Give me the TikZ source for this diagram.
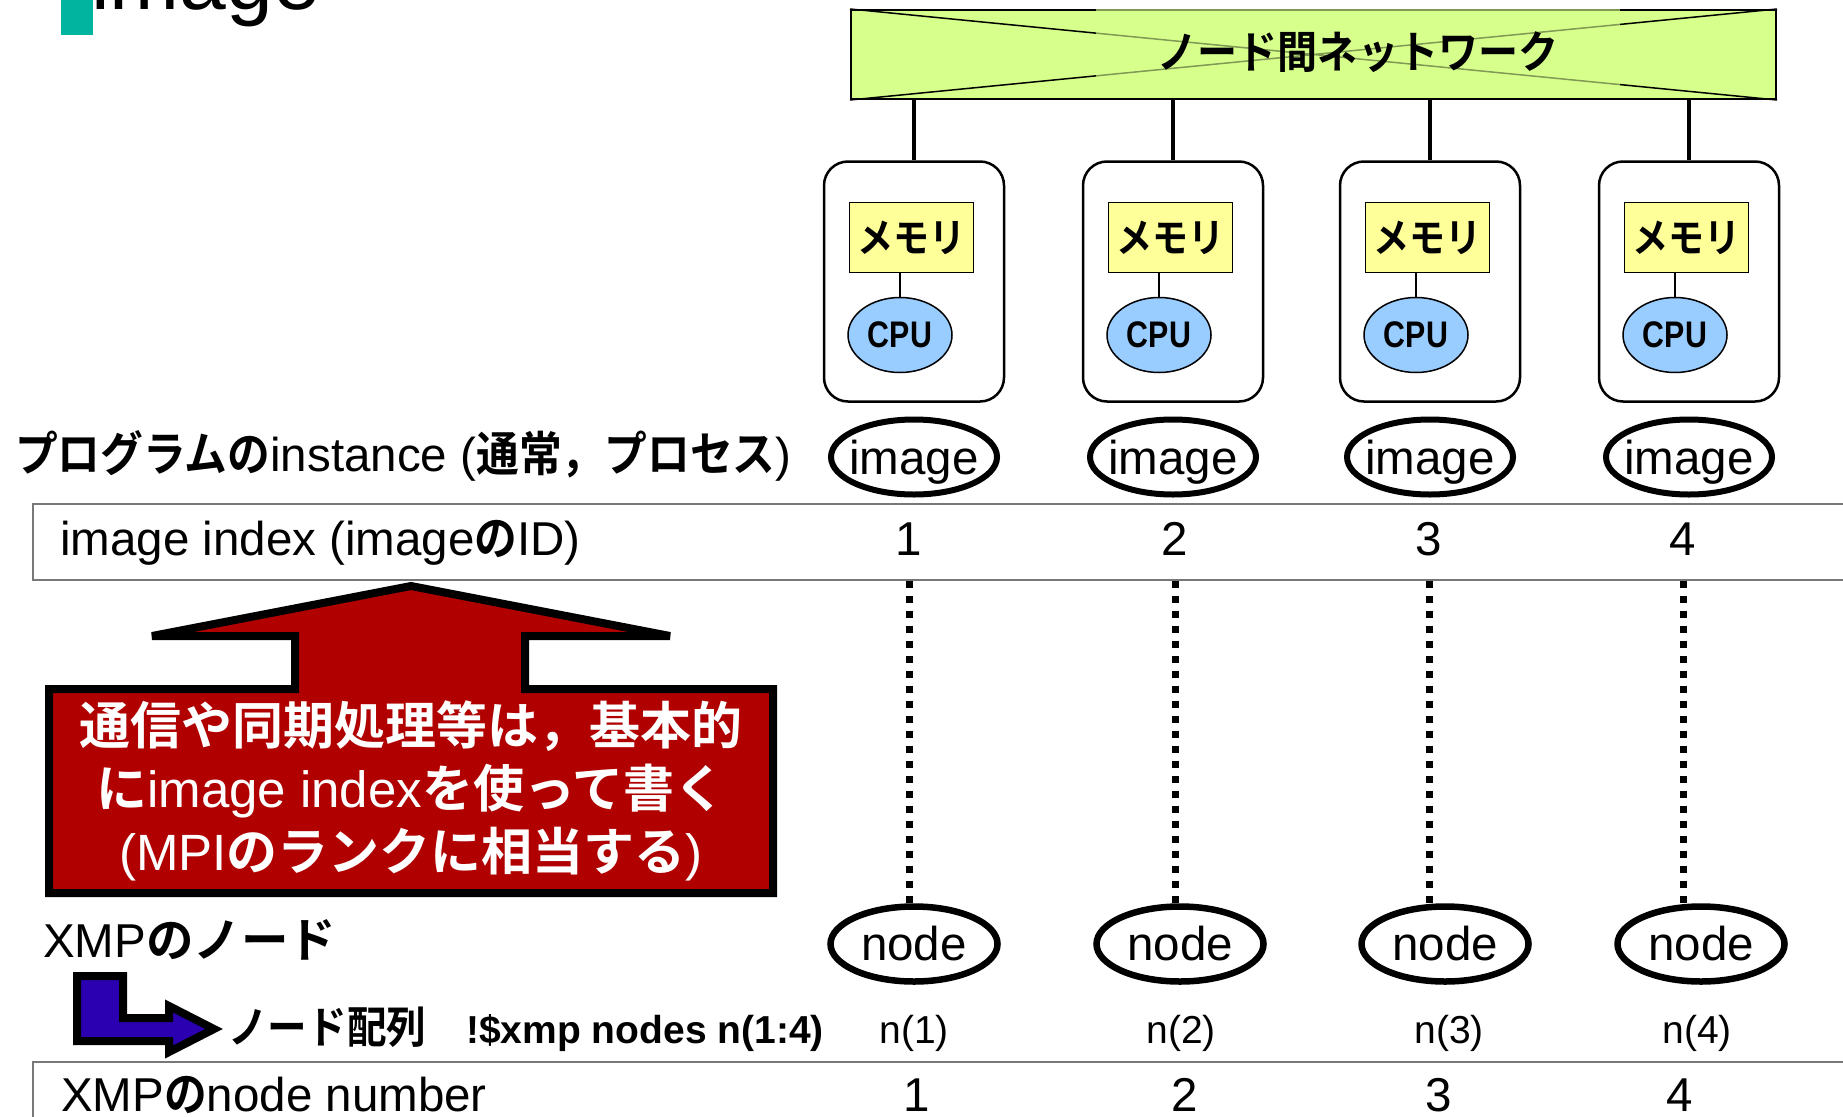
\documentclass[tikz,border=0pt]{standalone}
\usepackage{fontspec}
\setmainfont{Liberation Sans}
\newfontfamily\jpfont[FakeStretch=0.9]{Noto Sans CJK JP Bold}
\newfontfamily\jpwide{Noto Sans CJK JP Bold}
\newfontfamily\condfont[FakeStretch=0.82]{Liberation Sans}
\usetikzlibrary{shapes.geometric}
\newcommand\setfs[1]{\fontsize{#1}{#1}\selectfont}
\newcommand\jtxt[1]{{\jpfont #1}}
\newcommand\jwide[1]{{\jpwide #1}}
\definecolor{netgreen}{RGB}{214,255,140}
\definecolor{memyellow}{RGB}{255,255,153}
\definecolor{cpublue}{RGB}{153,204,255}
\definecolor{calloutred}{RGB}{176,0,0}
\definecolor{arrowblue}{RGB}{43,0,176}
\definecolor{titlegreen}{RGB}{0,180,160}
\definecolor{rowgray}{RGB}{120,120,120}
\begin{document}
\begin{tikzpicture}[x=1pt, y=-1pt, line join=miter, font=\setfs{47.5}]
	\tikzset{lbl/.style={inner sep=0pt},
		netbox/.style={draw, line width=2pt, fill=netgreen, minimum width=925pt, minimum height=89pt, inner sep=0pt},
		nettext/.style={fill=netgreen, fill opacity=0.6, text opacity=1, minimum width=524pt, minimum height=86pt, font=\jpfont\setfs{44.5}},
		pcbox/.style={draw, line width=2.5pt, fill=white, rounded corners=24pt, minimum width=180pt, minimum height=240pt},
		membox/.style={draw, line width=1.5pt, fill=memyellow, minimum width=124pt, minimum height=70pt, font=\jpfont\setfs{40}},
		cpu/.style={ellipse, draw, line width=1.5pt, fill=cpublue, minimum width=104pt, minimum height=75pt, inner sep=0pt, font=\condfont\bfseries\setfs{37}},
		imgell/.style={ellipse, draw, line width=6pt, minimum width=166pt, minimum height=75pt, inner xsep=-8pt, inner ysep=-2pt, text height=44pt, text depth=10pt},
		ndell/.style={ellipse, draw, line width=6.5pt, minimum width=167pt, minimum height=75pt, inner sep=0pt},
		rowbox/.style={draw=rowgray, line width=1.5pt, anchor=north west, minimum width=1900pt, inner sep=0pt},
		stem/.style={line width=4pt},
		dotline/.style={line width=7pt, dash pattern=on 7pt off 8pt}}
	\useasboundingbox (0,0) rectangle (1843,1116);
	\fill[titlegreen] (61,-5) rectangle (93,35);
	\node[lbl, anchor=base west, font=\setfs{84}] (title) at (91,10) {image};
	\node[netbox] (net) at (1313.5,54.5) {};
	\draw[line width=1.5pt] (net.north west) -- (net.south east) (net.south west) -- (net.north east);
	\node[nettext] (nettitle) at (1358,52) {ノード間ネットワーク};
	\node[rowbox, minimum height=76pt] (idxrow) at (32,503) {};
	\node[rowbox, minimum height=100pt] (numrow) at (32,1061) {};
	\foreach \k/\x/\ix/\nx/\px/\bx in {1/914/909/914/914/917, 2/1173/1175/1180/1181/1185, 3/1430/1429/1445/1449/1439, 4/1689/1683/1701/1697/1680}{
		\node[pcbox] (box\k) at (\x,281.5) {};
		\draw[stem] (box\k.north) -- (box\k.north |- net.south);
		\node[membox] (mem\k) at (\x-2.5,237.5) {メモリ};
		\node[cpu] (cpu\k) at (\x-14,335) {CPU};
		\draw[line width=1.5pt] (cpu\k.north) -- (cpu\k.north |- mem\k.south);
		\node[imgell] (img\k) at (\x,457) {image};
		\node[lbl, anchor=base] (idx\k) at (\ix,555) {\k};
		\node[ndell] (nd\k) at (\nx,944) {node};
		\draw[dotline] (idx\k |- idxrow.south) -- (idx\k |- nd\k.north);
		\node[lbl, anchor=base, font=\setfs{39}] (nn\k) at (\px,1043) {n(\k)};
		\node[lbl, anchor=base] (num\k) at (\bx,1111) {\k};
	}
	\node[lbl, anchor=base west] (proglabel) at (15,471) {\jtxt{プログラムの}instance (\jtxt{通常，プロセス})};
	\node[lbl, anchor=base west] (idxlabel) at (60,555) {image index (image\jtxt{の}ID)};
	\draw[line width=8pt, fill=calloutred] (49,893) -- (49,689) -- (295,689) -- (295,636) -- (152,636) -- (411,586) -- (670,636) -- (525,636) -- (525,689) -- (773,689) -- (773,893) -- cycle;
	\node[text=white, align=center, font=\fontsize{51}{63}\selectfont] (calltext) at (411,791)
		{\jwide{通信や同期処理等は，基本的}\\\jwide{に}image index\jwide{を使って書く}\\(MPI\jwide{のランクに相当する})};
	\node[lbl, anchor=base west] (xmplabel) at (43,957) {XMP\jwide{のノード}};
	\draw[line width=8pt, fill=arrowblue] (77,976) -- (123,976) -- (123,1018) -- (169,1018) -- (169,1006) -- (214,1029) -- (169,1052) -- (169,1041) -- (77,1041) -- cycle;
	\node[lbl, anchor=base west, font=\jpfont\setfs{44}] (arrlabel) at (228,1043) {ノード配列};
	\node[lbl, anchor=base west, font=\bfseries\setfs{39}] (xmpdecl) at (466,1043) {!\$xmp nodes n(1:4)};
	\node[lbl, anchor=base west] (numlabel) at (61,1111) {XMP\jtxt{の}node number};
\end{tikzpicture}
\end{document}
